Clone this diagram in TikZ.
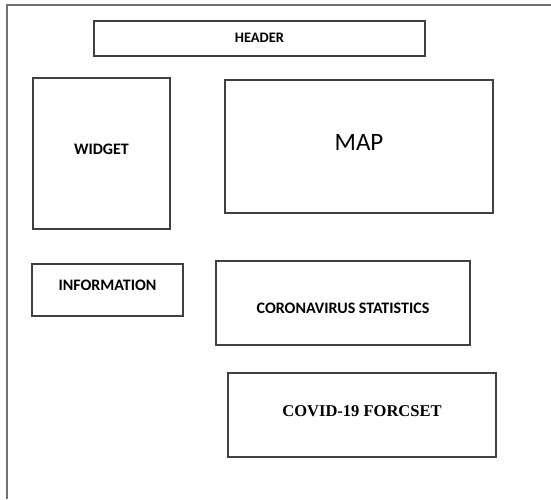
\documentclass[tikz,border=0pt]{standalone}
\usepackage{fontspec}
\setsansfont{Carlito}
\newfontfamily\serifbox{Liberation Serif}
\usepackage{tikz}
\usetikzlibrary{positioning}
\definecolor{FrameGray}{RGB}{112,112,112}
\definecolor{BoxGray}{RGB}{64,64,64}

\begin{document}
\begin{tikzpicture}[x=1pt,y=-1pt,
    panel/.style={draw=BoxGray,line width=1.3pt,inner sep=0pt,fill=white},
    caption/.style={font=\sffamily\bfseries\fontsize{16}{18}\selectfont,text=black}]
      \useasboundingbox (0,0) rectangle (551,499);
      % page frame, cut off at right and bottom
      \draw[FrameGray,line width=2pt] (7,499)--(7,5)--(551,5);
      \node[panel,minimum width=331pt,minimum height=35pt] (header) at (259.5,38.5) {};
      \node[caption,font=\sffamily\bfseries\fontsize{14.5}{16}\selectfont] (headertxt)
        at ([yshift=1pt]header.center) {HEADER};
      \node[panel,minimum width=137pt,minimum height=151pt] (widget) at (101.5,153.5) {};
      \node[caption] (widgettxt) at ([yshift=4pt]widget.center) {WIDGET};
      \node[panel,minimum width=268pt,minimum height=133pt] (map) at (359,146.5) {};
      \node[font=\sffamily\fontsize{25}{28}\selectfont] (maptxt) at ([yshift=4pt]map.center) {MAP};
      \node[panel,minimum width=151pt,minimum height=52pt] (info) at (107.5,290) {};
      \node[caption] (infotxt) at ([yshift=5pt]info.center) {INFORMATION};
      \node[panel,minimum width=254pt,minimum height=84pt] (stats) at (343,303) {};
      \node[caption] (statstxt) at ([yshift=-5pt]stats.center) {CORONAVIRUS STATISTICS};
      \node[panel,minimum width=268pt,minimum height=84pt] (forecast) at (362,415) {};
      \node[font=\serifbox\bfseries\fontsize{16.5}{18}\selectfont] (forecasttxt)
        at ([yshift=4pt]forecast.center) {COVID-19 FORCSET};
    \end{tikzpicture}
\end{document}
